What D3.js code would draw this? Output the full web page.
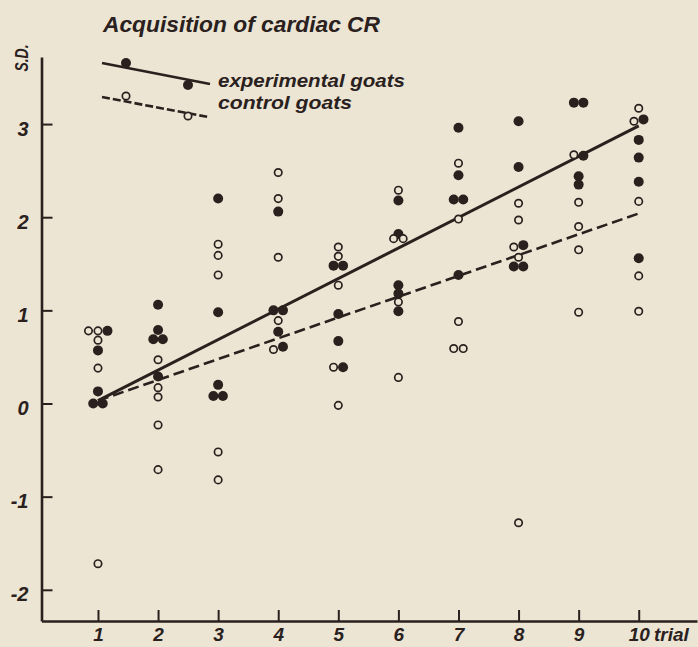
<!DOCTYPE html>
<html><head><meta charset="utf-8">
<script src="https://cdn.jsdelivr.net/npm/d3@7"></script>
<style>html,body{margin:0;padding:0;background:#ece5d3;}svg{display:block}</style>
</head><body><svg id="c" width="698" height="647"></svg>
<script>
// ---- data ----
const trials = [1, 2, 3, 4, 5, 6, 7, 8, 9, 10];
// experimental goats (filled circles), one list per trial
const experimental = [
  [0.78, 0.57, 0.13, 0.00, 0.00],
  [1.06, 0.79, 0.69, 0.69, 0.29],
  [2.20, 0.98, 0.20, 0.08, 0.08],
  [2.06, 1.00, 1.00, 0.77, 0.61],
  [1.48, 1.48, 0.96, 0.67, 0.39],
  [2.18, 1.82, 1.27, 1.18, 0.99],
  [2.96, 2.45, 2.19, 2.19, 1.38],
  [3.03, 2.54, 1.70, 1.47, 1.47],
  [3.23, 3.23, 2.66, 2.44, 2.35],
  [3.05, 2.83, 2.64, 2.38, 1.56]
];
// control goats (open circles)
const control = [
  [0.78, 0.78, 0.68, 0.38, -1.72],
  [0.47, 0.17, 0.07, -0.23, -0.71],
  [1.71, 1.59, 1.38, -0.52, -0.82],
  [2.48, 2.20, 1.57, 0.89, 0.58],
  [1.68, 1.58, 1.27, 0.39, -0.02],
  [2.29, 1.77, 1.77, 1.09, 0.28],
  [2.58, 1.98, 0.88, 0.59, 0.59],
  [2.15, 1.97, 1.68, 1.57, -1.28],
  [2.67, 2.16, 1.90, 1.65, 0.98],
  [3.17, 3.03, 2.17, 1.37, 0.99]
];
const fitTrials = [1, 10];
const experimentalFit = [0.03, 2.98];
const controlFit = [0.03, 2.04];
const yTickValues = [-2, -1, 0, 1, 2, 3];
const titleText = "Acquisition of cardiac CR";
const legendLabels = ["experimental goats", "control goats"];
const yLabel = "S.D.";
const xLabel = "trial";

// ---- styling ----
const INK = "#2a211e", BG = "#ece5d3";
const FONT = "'Liberation Sans', Arial, sans-serif";
const svg = d3.select("#c");
svg.append("rect").attr("width", 698).attr("height", 647).attr("fill", BG);

const x = d3.scaleLinear().domain([0.06, 10.97]).range([41.5, 697]);
const y = d3.scaleLinear().domain([-2.335, 3.72]).range([621, 57]);

// axes
const fmt = d => String(d);
const gx = svg.append("g").attr("transform", "translate(0,621)")
  .call(d3.axisBottom(x).tickValues(trials).tickSizeInner(-11).tickSizeOuter(0).tickFormat(fmt));
const gy = svg.append("g").attr("transform", "translate(41.5,0)")
  .call(d3.axisLeft(y).tickValues(yTickValues).tickSizeInner(-11).tickSizeOuter(0).tickFormat(fmt));
[gx, gy].forEach(g => {
  g.select(".domain").attr("stroke", INK).attr("stroke-width", 2.6);
  g.selectAll(".tick line").attr("stroke", INK).attr("stroke-width", 2);
  g.selectAll("text").attr("fill", INK).attr("font-family", FONT)
    .attr("font-style", "italic").attr("font-weight", "bold").attr("font-size", 19);
});
gx.selectAll(".tick text").attr("y", 20).attr("dy", 0);
gy.selectAll(".tick text").attr("x", -13).attr("dy", "0.55em").attr("font-size", 20);

svg.append("text").text(xLabel).attr("x", 654).attr("y", 641)
  .attr("fill", INK).attr("font-family", FONT).attr("font-style", "italic")
  .attr("font-weight", "bold").attr("font-size", 19);

svg.append("text").text(yLabel)
  .attr("transform", "translate(28,58) rotate(-90)")
  .attr("text-anchor", "middle").attr("textLength", 27).attr("lengthAdjust", "spacingAndGlyphs")
  .attr("fill", INK).attr("font-family", FONT).attr("font-style", "italic")
  .attr("font-weight", "bold").attr("font-size", 19);

// regression lines
const line = d3.line().x(d => x(d[0])).y(d => y(d[1]));
svg.append("path").datum(fitTrials.map((t, i) => [t, experimentalFit[i]]))
  .attr("d", line).attr("stroke", INK).attr("stroke-width", 3).attr("fill", "none");
svg.append("path").datum(fitTrials.map((t, i) => [t, controlFit[i]]))
  .attr("d", line).attr("stroke", INK).attr("stroke-width", 2.6).attr("fill", "none")
  .attr("stroke-dasharray", "11,5");

// points, with side-by-side placement of (near) equal values
const pts = [];
trials.forEach((t, i) => {
  const all = control[i].map((v, k) => ({ t, v, type: "c", k }))
    .concat(experimental[i].map((v, k) => ({ t, v, type: "e", k: 100 + k })));
  all.sort((a, b) => b.v - a.v || a.k - b.k);
  const groups = [];
  all.forEach(p => {
    const g = groups[groups.length - 1];
    if (g && Math.abs(g[g.length - 1].v - p.v) <= 0.035) g.push(p); else groups.push([p]);
  });
  groups.forEach(g => {
    g.sort((a, b) => a.k - b.k);
    g.forEach((p, j) => { p.dx = (j - (g.length - 1) / 2) * 9.5; pts.push(p); });
  });
});
svg.append("g").selectAll("circle").data(pts.filter(p => p.type === "e")).join("circle")
  .attr("cx", d => x(d.t) + d.dx).attr("cy", d => y(d.v)).attr("r", 5).attr("fill", INK);
svg.append("g").selectAll("circle").data(pts.filter(p => p.type === "c")).join("circle")
  .attr("cx", d => x(d.t) + d.dx).attr("cy", d => y(d.v)).attr("r", 3.7)
  .attr("fill", BG).attr("stroke", INK).attr("stroke-width", 1.7);

// title and legend
svg.append("text").text(titleText).attr("x", 103).attr("y", 32)
  .attr("textLength", 277).attr("lengthAdjust", "spacingAndGlyphs")
  .attr("fill", INK).attr("font-family", FONT).attr("font-style", "italic")
  .attr("font-weight", "bold").attr("font-size", 22);

const lg = svg.append("g");
lg.append("line").attr("x1", 102).attr("y1", 63).attr("x2", 210).attr("y2", 84)
  .attr("stroke", INK).attr("stroke-width", 2.6);
lg.append("circle").attr("cx", 126).attr("cy", 63).attr("r", 5).attr("fill", INK);
lg.append("circle").attr("cx", 188).attr("cy", 85).attr("r", 5).attr("fill", INK);
lg.append("line").attr("x1", 102).attr("y1", 97).attr("x2", 208).attr("y2", 117)
  .attr("stroke", INK).attr("stroke-width", 2.6).attr("stroke-dasharray", "8,3");
lg.append("circle").attr("cx", 126).attr("cy", 96).attr("r", 3.7)
  .attr("fill", BG).attr("stroke", INK).attr("stroke-width", 1.7);
lg.append("circle").attr("cx", 188).attr("cy", 116).attr("r", 3.7)
  .attr("fill", BG).attr("stroke", INK).attr("stroke-width", 1.7);
const legendY = [87, 108.5], legendW = [187, 134];
legendLabels.forEach((s, i) => {
  lg.append("text").text(s).attr("x", 218).attr("y", legendY[i])
    .attr("textLength", legendW[i]).attr("lengthAdjust", "spacingAndGlyphs")
    .attr("fill", INK).attr("font-family", FONT).attr("font-style", "italic")
    .attr("font-weight", "bold").attr("font-size", 19);
});
</script></body></html>
